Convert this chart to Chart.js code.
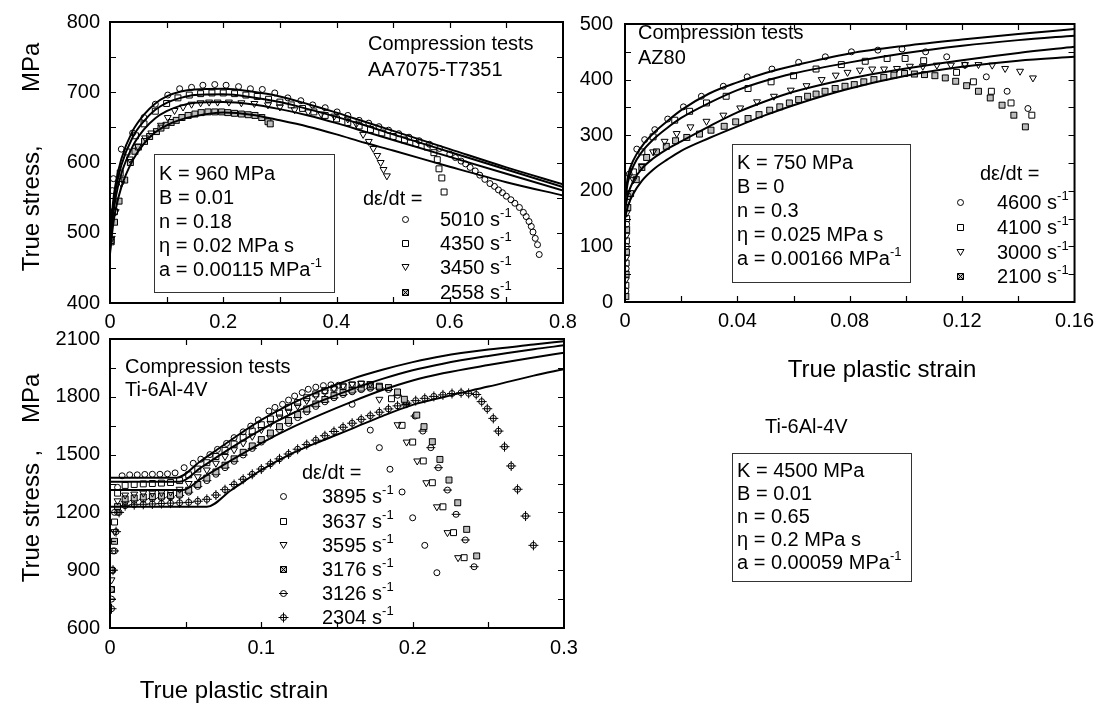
<!DOCTYPE html>
<html>
<head>
<meta charset="utf-8">
<script src="https://cdn.jsdelivr.net/npm/chart.js@4.4.1/dist/chart.umd.min.js"></script>
<style>
  html, body { margin: 0; padding: 0; background: #fff; }
  #wrap { position: relative; width: 1101px; height: 705px; overflow: hidden;
          font-family: "Liberation Sans", Arial, sans-serif; color: #000; }
  canvas { position: absolute; left: 0; top: 0; }
  .t { position: absolute; font-size: 20px; line-height: 24px; white-space: pre; }
  .box { position: absolute; border: 1px solid #333; box-sizing: border-box; padding-left: 4px; }
  .box div { font-size: 20px; white-space: pre; }
  .sup { font-size: 13px; position: relative; top: -9px; }
  .ax { position: absolute; font-size: 24px; line-height: 28px; white-space: pre; }
  .yt { transform: translate(-50%, -50%) rotate(-90deg); }
  .sym { position: absolute; }
</style>
</head>
<body>
<div id="wrap">
  <canvas id="aaChart" width="1101" height="705"></canvas>
  <canvas id="azChart" width="1101" height="705"></canvas>
  <canvas id="tiChart" width="1101" height="705"></canvas>

  <div class="ax yt" style="left:31px; top:157px;">True stress,        MPa</div>
  <div class="ax yt" style="left:31px; top:478px;">True stress ,    MPa</div>
  <div class="ax" style="left:882px; top:355px; transform:translateX(-50%);">True plastic strain</div>
  <div class="ax" style="left:234px; top:676px; transform:translateX(-50%);">True plastic strain</div>

  <!-- AA7075 panel -->
  <div class="t" style="left:368px; top:31px;">Compression tests</div>
  <div class="t" style="left:368px; top:57px;">AA7075-T7351</div>
  <div class="box" style="left:154px; top:154px; width:181px; height:139px; padding-top:6px; line-height:24px;">
    <div>K = 960 MPa</div><div>B = 0.01</div><div>n = 0.18</div><div>&eta; = 0.02 MPa s</div><div>a = 0.00115 MPa<span class="sup">-1</span></div>
  </div>
  <div class="t" style="left:363px; top:186px;">d&epsilon;/dt =</div>
  <div class="t" style="left:440px; top:207px;">5010 s<span class="sup">-1</span></div>
  <div class="t" style="left:440px; top:231px;">4350 s<span class="sup">-1</span></div>
  <div class="t" style="left:440px; top:255px;">3450 s<span class="sup">-1</span></div>
  <div class="t" style="left:440px; top:280px;">2558 s<span class="sup">-1</span></div>

  <!-- AZ80 panel -->
  <div class="t" style="left:638px; top:20px;">Compression tests</div>
  <div class="t" style="left:638px; top:45px;">AZ80</div>
  <div class="box" style="left:732px; top:144px; width:179px; height:139px; padding-top:5px; line-height:24px;">
    <div>K = 750 MPa</div><div>B = 0</div><div>n = 0.3</div><div>&eta; = 0.025 MPa s</div><div>a = 0.00166 MPa<span class="sup">-1</span></div>
  </div>
  <div class="t" style="left:980px; top:161px;">d&epsilon;/dt =</div>
  <div class="t" style="left:997px; top:190px;">4600 s<span class="sup">-1</span></div>
  <div class="t" style="left:997px; top:215px;">4100 s<span class="sup">-1</span></div>
  <div class="t" style="left:997px; top:240px;">3000 s<span class="sup">-1</span></div>
  <div class="t" style="left:997px; top:264px;">2100 s<span class="sup">-1</span></div>

  <!-- Ti-6Al-4V panel -->
  <div class="t" style="left:125px; top:354px;">Compression tests</div>
  <div class="t" style="left:125px; top:377px;">Ti-6Al-4V</div>
  <div class="t" style="left:302px; top:460px;">d&epsilon;/dt =</div>
  <div class="t" style="left:322px; top:484px;">3895 s<span class="sup">-1</span></div>
  <div class="t" style="left:322px; top:509px;">3637 s<span class="sup">-1</span></div>
  <div class="t" style="left:322px; top:533px;">3595 s<span class="sup">-1</span></div>
  <div class="t" style="left:322px; top:557px;">3176 s<span class="sup">-1</span></div>
  <div class="t" style="left:322px; top:581px;">3126 s<span class="sup">-1</span></div>
  <div class="t" style="left:322px; top:605px;">2304 s<span class="sup">-1</span></div>
  <div class="t" style="left:765px; top:414px;">Ti-6Al-4V</div>
  <div class="box" style="left:732px; top:453px; width:180px; height:129px; padding-top:5px; line-height:23px;">
    <div>K = 4500 MPa</div><div>B = 0.01</div><div>n = 0.65</div><div>&eta; = 0.2 MPa s</div><div>a = 0.00059 MPa<span class="sup">-1</span></div>
  </div>
</div>

<script>
// ---- AA7075-T7351 (strain, stress MPa) ----
const aa5010 = [[0.004,560],[0.006,577],[0.02,619],[0.04,642],[0.06,664],[0.08,683],[0.102,696],[0.123,705],[0.144,707],[0.164,710],[0.185,711],[0.205,710],[0.227,708],[0.248,705],[0.269,704],[0.291,699],[0.314,692],[0.337,688],[0.358,682],[0.38,678],[0.401,672],[0.42,667],[0.44,660],[0.457,656],[0.475,651],[0.492,646],[0.51,641],[0.528,636],[0.546,631],[0.564,626],[0.582,620],[0.6,612],[0.61,607],[0.62,602],[0.628,598],[0.636,593],[0.645,588],[0.653,582],[0.662,576],[0.671,570],[0.679,566],[0.686,561],[0.693,557],[0.7,552],[0.708,547],[0.715,542],[0.723,536],[0.73,529],[0.735,523],[0.74,516],[0.744,509],[0.747,501],[0.751,492],[0.755,483],[0.758,469]];
const aa4350 = [[0.002,489],[0.008,530],[0.018,585],[0.03,615],[0.045,638],[0.06,655],[0.08,673],[0.1,684],[0.12,692],[0.14,696],[0.16,698],[0.18,699],[0.2,699],[0.22,698],[0.24,696],[0.26,694],[0.28,690],[0.3,686],[0.32,682],[0.34,677],[0.36,672],[0.38,667],[0.4,662],[0.42,657],[0.44,652],[0.46,647],[0.48,642],[0.5,637],[0.52,632],[0.54,627],[0.56,622],[0.572,614],[0.578,604],[0.581,591],[0.586,578],[0.59,558]];
const aa3450 = [[0.003,492],[0.01,530],[0.02,570],[0.035,605],[0.049,623],[0.062,635],[0.073,642],[0.09,653],[0.102,664],[0.114,674],[0.129,679],[0.144,683],[0.16,685],[0.175,686],[0.19,686],[0.21,686],[0.232,685],[0.255,684],[0.279,682],[0.3,679],[0.326,675],[0.35,672],[0.373,669],[0.396,666],[0.42,662],[0.435,655],[0.447,640],[0.457,630],[0.465,620],[0.472,610],[0.478,600],[0.483,590],[0.489,581]];
const aa2558 = [[0.002,487],[0.008,515],[0.016,545],[0.026,575],[0.036,600],[0.044,616],[0.05,622],[0.061,630],[0.07,637],[0.082,644],[0.09,649],[0.099,653],[0.108,657],[0.117,660],[0.127,664],[0.138,667],[0.15,669],[0.161,671],[0.173,672],[0.185,672],[0.197,672],[0.208,671],[0.22,670],[0.232,669],[0.244,668],[0.256,667],[0.268,664],[0.279,658],[0.283,655]];
const aaFit5010 = [[0,480],[0.005,540],[0.01,570],[0.02,605],[0.04,645],[0.06,668],[0.08,684],[0.1,694],[0.125,701],[0.15,704],[0.2,705],[0.25,701],[0.3,694],[0.35,683],[0.4,671],[0.45,658],[0.5,645],[0.6,619],[0.7,593],[0.8,569]];
const aaFit4350 = [[0,478],[0.005,532],[0.01,561],[0.02,596],[0.04,636],[0.06,659],[0.08,675],[0.1,685],[0.125,692],[0.15,696],[0.2,697],[0.25,693],[0.3,686],[0.35,676],[0.4,665],[0.45,653],[0.5,640],[0.6,615],[0.7,590],[0.8,565]];
const aaFit3450 = [[0,475],[0.005,522],[0.01,550],[0.02,584],[0.04,623],[0.06,647],[0.08,663],[0.1,673],[0.125,681],[0.15,685],[0.2,686],[0.25,683],[0.3,676],[0.35,667],[0.4,656],[0.45,644],[0.5,632],[0.6,608],[0.7,584],[0.8,560]];
const aaFit2558 = [[0,470],[0.005,508],[0.01,533],[0.02,565],[0.04,603],[0.06,627],[0.08,643],[0.1,653],[0.125,661],[0.15,666],[0.2,671],[0.25,668],[0.3,660],[0.35,651],[0.4,640],[0.45,628],[0.5,617],[0.6,594],[0.7,572],[0.8,553]];

// ---- AZ80 ----
const az4600 = [[0.0003,20],[0.0004,60],[0.0005,100],[0.0006,140],[0.0007,180],[0.0015,230],[0.0042,275],[0.007,292],[0.0106,310],[0.0152,329],[0.0208,351],[0.0272,370],[0.035,388],[0.0435,405],[0.0523,419],[0.0618,431],[0.0713,441],[0.0806,450],[0.09,453],[0.0986,455],[0.107,450],[0.1145,441],[0.121,426],[0.1286,405],[0.136,379],[0.1434,348]];
const az4100 = [[0.0003,30],[0.0004,70],[0.0005,110],[0.0006,150],[0.0008,190],[0.003,234],[0.006,270],[0.01,297],[0.0177,327],[0.023,343],[0.029,358],[0.036,370],[0.0438,384],[0.052,396],[0.06,407],[0.068,419],[0.077,427],[0.0855,433],[0.0933,438],[0.0997,438],[0.1063,434],[0.118,413],[0.124,396],[0.1304,379],[0.1374,358],[0.1448,336]];
const az3000 = [[0.0003,40],[0.0004,80],[0.0005,120],[0.0006,160],[0.003,220],[0.006,245],[0.01,270],[0.0141,289],[0.0184,303],[0.0233,315],[0.029,325],[0.035,336],[0.041,349],[0.047,360],[0.053,370],[0.059,381],[0.0646,389],[0.07,400],[0.075,408],[0.0792,413],[0.0836,417],[0.088,419],[0.0922,419],[0.0968,420],[0.1014,424],[0.106,424],[0.111,426],[0.116,426],[0.121,427],[0.1258,427],[0.1307,426],[0.1353,420],[0.1406,415],[0.1452,403]];
const az2100 = [[0.0003,10],[0.0004,50],[0.0005,90],[0.0006,130],[0.001,170],[0.002,195],[0.004,220],[0.006,242],[0.0077,260],[0.0112,270],[0.0147,280],[0.018,290],[0.022,296],[0.0265,302],[0.0306,309],[0.0353,316],[0.0394,324],[0.0438,330],[0.0477,337],[0.0515,345],[0.0551,351],[0.0585,358],[0.0618,364],[0.065,370],[0.068,374],[0.0712,379],[0.0748,384],[0.0783,388],[0.0816,391],[0.085,396],[0.0886,400],[0.0921,404],[0.0957,408],[0.0995,411],[0.103,410],[0.1066,409],[0.1103,407],[0.114,403],[0.1177,397],[0.1216,389],[0.1258,379],[0.13,367],[0.1342,354],[0.1384,336],[0.1425,315]];
const azFit4600 = [[0,185],[0.001,225],[0.003,255],[0.006,280],[0.01,303],[0.015,325],[0.02,345],[0.03,375],[0.04,395],[0.05,412],[0.06,425],[0.08,447],[0.1,461],[0.12,472],[0.14,482],[0.16,491]];
const azFit4100 = [[0,180],[0.001,215],[0.003,245],[0.006,270],[0.01,292],[0.015,313],[0.02,331],[0.03,358],[0.04,381],[0.05,398],[0.06,411],[0.08,431],[0.1,448],[0.12,461],[0.14,471],[0.16,479]];
const azFit3000 = [[0,165],[0.001,192],[0.003,218],[0.006,240],[0.01,258],[0.015,275],[0.02,289],[0.03,316],[0.04,341],[0.05,361],[0.06,378],[0.08,402],[0.1,420],[0.12,435],[0.14,448],[0.16,459]];
const azFit2100 = [[0,150],[0.001,172],[0.003,195],[0.006,218],[0.01,238],[0.015,256],[0.02,272],[0.03,295],[0.04,316],[0.05,336],[0.06,354],[0.08,384],[0.1,407],[0.12,423],[0.14,434],[0.16,441]];

// ---- Ti-6Al-4V ----
const ti3895 = [[0.001,800],[0.002,1000],[0.003,1200],[0.005,1330],[0.008,1390],[0.013,1395],[0.018,1395],[0.023,1397],[0.028,1398],[0.033,1398],[0.038,1400],[0.043,1405],[0.049,1432],[0.055,1455],[0.06,1476],[0.066,1500],[0.071,1527],[0.077,1558],[0.082,1588],[0.088,1618],[0.093,1648],[0.098,1680],[0.105,1726],[0.109,1745],[0.114,1761],[0.118,1783],[0.122,1804],[0.127,1822],[0.131,1839],[0.136,1850],[0.141,1858],[0.146,1862],[0.151,1860],[0.16,1761],[0.172,1627],[0.178,1536],[0.185,1424],[0.193,1306],[0.2,1172],[0.208,1029],[0.216,887]];
const ti3637 = [[0.001,900],[0.003,1150],[0.005,1300],[0.01,1340],[0.016,1345],[0.022,1348],[0.028,1350],[0.034,1352],[0.04,1355],[0.046,1365],[0.052,1395],[0.058,1425],[0.064,1458],[0.07,1490],[0.076,1522],[0.082,1555],[0.088,1590],[0.094,1622],[0.1,1655],[0.106,1685],[0.112,1715],[0.118,1745],[0.124,1770],[0.13,1795],[0.136,1815],[0.142,1832],[0.148,1845],[0.154,1855],[0.16,1862],[0.166,1866],[0.172,1862],[0.178,1850],[0.186,1790],[0.193,1652],[0.2,1565],[0.207,1467],[0.213,1354],[0.22,1229],[0.227,1095],[0.234,965]];
const ti3595 = [[0.001,850],[0.003,1100],[0.005,1260],[0.01,1290],[0.016,1295],[0.022,1300],[0.028,1300],[0.034,1302],[0.04,1305],[0.046,1320],[0.052,1350],[0.058,1385],[0.064,1420],[0.07,1455],[0.076,1490],[0.082,1525],[0.088,1560],[0.094,1595],[0.1,1630],[0.106,1662],[0.112,1695],[0.118,1725],[0.124,1752],[0.13,1780],[0.136,1805],[0.142,1825],[0.148,1842],[0.154,1855],[0.16,1865],[0.166,1870],[0.172,1868],[0.178,1787],[0.19,1655],[0.196,1565],[0.203,1467],[0.209,1354],[0.216,1229],[0.223,1095],[0.23,965]];
const ti3176 = [[0.001,800],[0.003,1050],[0.005,1230],[0.01,1270],[0.016,1275],[0.022,1280],[0.028,1282],[0.034,1285],[0.04,1288],[0.046,1295],[0.052,1315],[0.058,1345],[0.064,1378],[0.07,1410],[0.076,1445],[0.082,1478],[0.088,1512],[0.094,1545],[0.1,1578],[0.106,1612],[0.112,1645],[0.118,1677],[0.124,1708],[0.13,1737],[0.136,1763],[0.142,1786],[0.148,1806],[0.154,1822],[0.16,1835],[0.166,1845],[0.172,1852],[0.178,1855],[0.184,1848],[0.19,1825],[0.1945,1787],[0.2027,1705],[0.2075,1645],[0.213,1567],[0.218,1475],[0.224,1368],[0.2298,1250],[0.2357,1112],[0.2423,974]];
const ti3126 = [[0.001,750],[0.003,1000],[0.005,1200],[0.01,1255],[0.016,1262],[0.022,1268],[0.028,1272],[0.034,1276],[0.04,1280],[0.046,1288],[0.052,1305],[0.058,1335],[0.064,1365],[0.07,1398],[0.076,1432],[0.082,1465],[0.088,1498],[0.094,1532],[0.1,1565],[0.106,1598],[0.112,1630],[0.118,1662],[0.124,1692],[0.13,1722],[0.136,1750],[0.142,1774],[0.148,1795],[0.154,1812],[0.16,1826],[0.166,1837],[0.172,1844],[0.178,1846],[0.184,1838],[0.19,1808],[0.1955,1760],[0.2016,1700],[0.2067,1622],[0.212,1536],[0.217,1432],[0.223,1316],[0.2287,1190],[0.2348,1057],[0.2406,918]];
const ti2304 = [[0.001,700],[0.002,900],[0.004,1100],[0.006,1200],[0.01,1235],[0.016,1240],[0.022,1242],[0.028,1244],[0.034,1246],[0.04,1248],[0.046,1250],[0.052,1252],[0.058,1258],[0.064,1268],[0.07,1290],[0.076,1318],[0.082,1345],[0.088,1372],[0.094,1398],[0.1,1425],[0.106,1452],[0.112,1478],[0.118,1503],[0.124,1528],[0.13,1552],[0.136,1575],[0.142,1598],[0.148,1620],[0.154,1642],[0.16,1663],[0.166,1683],[0.172,1702],[0.178,1720],[0.184,1737],[0.19,1753],[0.196,1767],[0.202,1780],[0.208,1792],[0.214,1802],[0.22,1810],[0.226,1817],[0.232,1821],[0.237,1818],[0.242,1812],[0.2456,1775],[0.2493,1738],[0.2533,1688],[0.2567,1622],[0.2607,1541],[0.2651,1441],[0.2693,1320],[0.2746,1181],[0.2798,1029]];
const tiFit1 = [[0,1380],[0.044,1380],[0.06,1467],[0.08,1576],[0.1,1680],[0.12,1765],[0.14,1835],[0.16,1893],[0.18,1940],[0.2,1980],[0.22,2012],[0.25,2045],[0.28,2071],[0.3,2089]];
const tiFit2 = [[0,1359],[0.046,1359],[0.06,1432],[0.08,1535],[0.1,1630],[0.12,1712],[0.14,1780],[0.16,1840],[0.18,1893],[0.2,1938],[0.22,1972],[0.25,2012],[0.28,2047],[0.3,2067]];
const tiFit3 = [[0,1316],[0.048,1316],[0.06,1374],[0.08,1470],[0.1,1560],[0.12,1640],[0.14,1710],[0.16,1775],[0.18,1835],[0.2,1885],[0.22,1922],[0.25,1965],[0.28,2004],[0.3,2029]];
const tiFit4 = [[0,1229],[0.064,1229],[0.08,1315],[0.1,1420],[0.12,1505],[0.14,1572],[0.16,1635],[0.18,1700],[0.2,1758],[0.22,1798],[0.25,1853],[0.28,1910],[0.3,1943]];

// each marker is one or more of Chart.js' built-in point styles drawn on top of each other
const glyphs = {
  circle: [{ style: "circle", r: 3 }],
  square: [{ style: "rect", r: 4.2 }],
  tri: [{ style: "triangle", r: 4, rot: 180 }],
  xsq: [{ style: "rect", r: 4.2, fill: "#bdbdbd" }, { style: "crossRot", r: 4.2 }],
  theta: [{ style: "circle", r: 3 }, { style: "line", r: 4.5 }],
  phi: [{ style: "circle", r: 3 }, { style: "cross", r: 5 }],
};

// same glyphs for the html legends
function glyphCanvas(kind) {
  const c = document.createElement("canvas");
  c.width = 11;
  c.height = 11;
  const g = c.getContext("2d");
  g.strokeStyle = "#000";
  g.lineWidth = 1;
  g.beginPath();
  if (kind === "circle") {
    g.arc(5.5, 5.5, 3, 0, 2 * Math.PI);
  } else if (kind === "square") {
    g.rect(2.5, 2.5, 6, 6);
  } else if (kind === "tri") {
    g.moveTo(2, 2.5); g.lineTo(9, 2.5); g.lineTo(5.5, 8.5); g.closePath();
  } else if (kind === "xsq") {
    g.fillStyle = "#bdbdbd";
    g.fillRect(2.5, 2.5, 6, 6);
    g.rect(2.5, 2.5, 6, 6);
    g.moveTo(2.5, 2.5); g.lineTo(8.5, 8.5);
    g.moveTo(8.5, 2.5); g.lineTo(2.5, 8.5);
  } else if (kind === "theta") {
    g.arc(5.5, 5.5, 3, 0, 2 * Math.PI);
    g.moveTo(1, 5.5); g.lineTo(10, 5.5);
  } else if (kind === "phi") {
    g.arc(5.5, 5.5, 3, 0, 2 * Math.PI);
    g.moveTo(5.5, 0.5); g.lineTo(5.5, 10.5);
    g.moveTo(0.5, 5.5); g.lineTo(10.5, 5.5);
  }
  g.stroke();
  return c;
}

const wrap = document.getElementById("wrap");
function legendMark(kind, cx, cy) {
  const img = new Image();
  img.src = glyphCanvas(kind).toDataURL();
  img.className = "sym";
  img.style.left = cx - 5 + "px";
  img.style.top = cy - 5 + "px";
  wrap.appendChild(img);
}

legendMark("circle", 405, 219);
legendMark("square", 405, 243);
legendMark("tri", 405, 267);
legendMark("xsq", 405, 292);
legendMark("circle", 960, 202);
legendMark("square", 960, 227);
legendMark("tri", 960, 252);
legendMark("xsq", 960, 276);
legendMark("circle", 283, 496);
legendMark("square", 283, 521);
legendMark("tri", 283, 545);
legendMark("xsq", 283, 569);
legendMark("theta", 283, 593);
legendMark("phi", 283, 617);

// frame with inward ticks on all four sides
const framePlugin = {
  id: "frame",
  afterDatasetsDraw(chart, args, opts) {
    const { ctx, chartArea: a } = chart;
    const x = chart.scales.x;
    const y = chart.scales.y;
    const tl = 6;
    ctx.save();
    ctx.strokeStyle = "#000";
    ctx.lineWidth = 1.2;
    ctx.beginPath();
    const nx = Math.round((x.max - x.min) / opts.xStep);
    for (let i = 1; i < nx; i++) {
      const px = Math.round(x.getPixelForValue(x.min + i * opts.xStep)) + 0.5;
      ctx.moveTo(px, a.bottom); ctx.lineTo(px, a.bottom - tl);
      ctx.moveTo(px, a.top); ctx.lineTo(px, a.top + tl);
    }
    const ny = Math.round((y.max - y.min) / opts.yStep);
    for (let i = 1; i < ny; i++) {
      const py = Math.round(y.getPixelForValue(y.min + i * opts.yStep)) + 0.5;
      ctx.moveTo(a.left, py); ctx.lineTo(a.left + tl, py);
      ctx.moveTo(a.right, py); ctx.lineTo(a.right - tl, py);
    }
    ctx.stroke();
    ctx.lineWidth = 2;
    ctx.strokeRect(a.left, a.top, a.right - a.left, a.bottom - a.top);
    ctx.restore();
  },
};

Chart.defaults.font.family = "'Liberation Sans', Arial, sans-serif";
Chart.defaults.font.size = 20;
Chart.defaults.color = "#000";

function fitLine(points) {
  return {
    data: points.map(([x, y]) => ({ x, y })),
    showLine: true,
    pointRadius: 0,
    borderColor: "#000",
    borderWidth: 2,
    cubicInterpolationMode: "monotone",
    fill: false,
  };
}

function marks(points, glyph) {
  const data = points.map(([x, y]) => ({ x, y }));
  return glyph.map((g) => ({
    data: data,
    showLine: false,
    pointStyle: g.style,
    pointRadius: g.r,
    pointRotation: g.rot || 0,
    borderWidth: 1,
    borderColor: "#000",
    backgroundColor: g.fill || "transparent",
  }));
}

function tickLabel(v) {
  return String(parseFloat(Number(v).toFixed(3)));
}

function makePanel(id, area, xAxis, yAxis, datasets) {
  const ctx = document.getElementById(id).getContext("2d");
  return new Chart(ctx, {
    type: "scatter",
    data: { datasets: datasets },
    options: {
      responsive: false,
      animation: false,
      devicePixelRatio: 1,
      layout: {
        padding: {
          left: area.left - 60,
          top: area.top,
          right: 1101 - area.right,
          bottom: 705 - area.bottom - 40,
        },
      },
      plugins: {
        legend: { display: false },
        tooltip: { enabled: false },
        frame: { xStep: xAxis.minor, yStep: yAxis.minor },
      },
      scales: {
        x: {
          type: "linear",
          min: xAxis.min,
          max: xAxis.max,
          afterFit: (s) => { s.height = 40; },
          grid: { display: false, drawTicks: false },
          border: { display: false },
          ticks: {
            stepSize: xAxis.step,
            padding: xAxis.pad,
            autoSkip: false,
            maxRotation: 0,
            callback: tickLabel,
          },
        },
        y: {
          type: "linear",
          min: yAxis.min,
          max: yAxis.max,
          afterFit: (s) => { s.width = 60; },
          grid: { display: false, drawTicks: false },
          border: { display: false },
          ticks: {
            stepSize: yAxis.step,
            padding: yAxis.pad,
            autoSkip: false,
            callback: tickLabel,
          },
        },
      },
    },
    plugins: [framePlugin],
  });
}

makePanel(
  "aaChart",
  { left: 110, top: 14, right: 563, bottom: 303 },
  { min: 0, max: 0.8, step: 0.2, minor: 0.1, pad: 7 },
  { min: 400, max: 800, step: 100, minor: 50, pad: 10 },
  [
    fitLine(aaFit5010), fitLine(aaFit4350), fitLine(aaFit3450), fitLine(aaFit2558),
    ...marks(aa5010, glyphs.circle), ...marks(aa4350, glyphs.square),
    ...marks(aa3450, glyphs.tri), ...marks(aa2558, glyphs.xsq),
  ]
);

makePanel(
  "azChart",
  { left: 625, top: 13, right: 1078, bottom: 302 },
  { min: 0, max: 0.16, step: 0.04, minor: 0.02, pad: 7 },
  { min: 0, max: 500, step: 100, minor: 50, pad: 12 },
  [
    fitLine(azFit4600), fitLine(azFit4100), fitLine(azFit3000), fitLine(azFit2100),
    ...marks(az4600, glyphs.circle), ...marks(az4100, glyphs.square),
    ...marks(az3000, glyphs.tri), ...marks(az2100, glyphs.xsq),
  ]
);

makePanel(
  "tiChart",
  { left: 110, top: 339, right: 564, bottom: 628 },
  { min: 0, max: 0.3, step: 0.1, minor: 0.05, pad: 8 },
  { min: 600, max: 2100, step: 300, minor: 150, pad: 10 },
  [
    fitLine(tiFit1), fitLine(tiFit2), fitLine(tiFit3), fitLine(tiFit4),
    ...marks(ti3895, glyphs.circle), ...marks(ti3637, glyphs.square), ...marks(ti3595, glyphs.tri),
    ...marks(ti3176, glyphs.xsq), ...marks(ti3126, glyphs.theta), ...marks(ti2304, glyphs.phi),
  ]
);
</script>
</body>
</html>
